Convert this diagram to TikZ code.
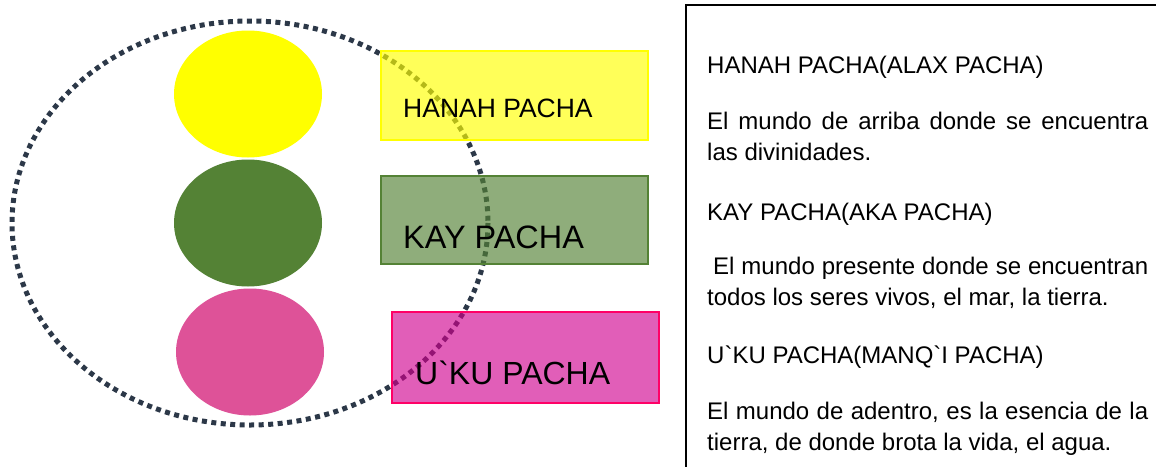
\documentclass[tikz,border=0pt]{standalone}
\usepackage{fontspec}
\setmainfont{Liberation Sans}[Ligatures=TeXOff]
\usetikzlibrary{shapes.geometric}
\definecolor{dotcol}{RGB}{44,56,72}
\definecolor{cyel}{RGB}{255,255,0}
\definecolor{cgreen}{RGB}{84,130,53}
\definecolor{cpink}{RGB}{222,82,152}
\definecolor{bpink}{RGB}{209,0,143}
\definecolor{bpinkline}{RGB}{255,0,102}
\tikzset{
  world/.style={ellipse, draw=none, minimum width=148, minimum height=127, inner sep=0},
  pachabox/.style={rectangle, minimum width=267, inner sep=0, line width=1.5pt, fill opacity=0.65},
  boxlabel/.style={anchor=base west, inner sep=0, text=black},
  txt/.style={anchor=base west, inner sep=0, font=\fontsize{24}{28}\selectfont},
  dotline/.style={draw=dotcol, line width=5pt, dash pattern=on 5pt off 4.5pt},
}
\newcommand{\fullline}[1]{\makebox[441pt][s]{#1}}
\begin{document}
\begin{tikzpicture}[x=1pt,y=-1pt]
\useasboundingbox (0,0) rectangle (1156,466);
\clip (0,0) rectangle (1156,466);
\fill[white] (0,0) rectangle (1156,466);
% dotted ellipse
\draw[dotline] (250,223) ellipse [x radius=238, y radius=202];
% worlds
\node[world, fill=cyel] (sky) at (248,94) {};
\node[world, fill=cgreen] (earth) at (248,223) {};
\node[world, fill=cpink] (under) at (250,352) {};
% boxes
\node[pachabox, minimum height=89, fill=cyel, draw=cyel] (hbox) at (514.5,95.5) {};
\node[pachabox, minimum height=88, fill=cgreen, draw=cgreen] (kbox) at (514.5,220) {};
\node[pachabox, minimum height=91, fill=bpink, fill opacity=0.63, draw=bpinkline] (ubox) at (525.5,357.5) {};
\node[boxlabel, font=\fontsize{26.5}{30}\selectfont] (hlab) at (403,117) {HANAH PACHA};
\node[boxlabel, font=\fontsize{32.4}{36}\selectfont] (klab) at (403,248) {KAY PACHA};
\node[boxlabel, font=\fontsize{32}{36}\selectfont] (ulab) at (415,384) {U`KU PACHA};
% description frame
\draw[line width=2pt, draw=black] (686,5) rectangle (1180,490);
\node[txt] (h1) at (707,73) {HANAH PACHA(ALAX PACHA)};
\node[txt] (p1a) at (707,129) {\fullline{El mundo de arriba donde se encuentra}};
\node[txt] (p1b) at (707,160) {las divinidades.};
\node[txt] (h2) at (707,220) {KAY PACHA(AKA PACHA)};
\node[txt] (p2a) at (707,274) {\fullline{\hspace*{6pt}El mundo presente donde se encuentran}};
\node[txt] (p2b) at (707,305) {todos los seres vivos, el mar, la tierra.};
\node[txt] (h3) at (707,363) {U`KU PACHA(MANQ`I PACHA)};
\node[txt] (p3a) at (707,419) {\fullline{El mundo de adentro, es la esencia de la}};
\node[txt] (p3b) at (707,450) {tierra, de donde brota la vida, el agua.};
\end{tikzpicture}
\end{document}
